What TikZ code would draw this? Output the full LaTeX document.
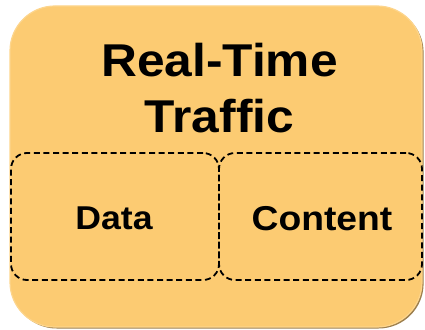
\documentclass[tikz,border=0pt]{standalone}
\usepackage{fontspec}
\setmainfont{Liberation Sans}
\newfontfamily\widesans[FakeStretch=1.08]{Liberation Sans}
\begin{document}
\begin{tikzpicture}[x=1pt,y=1pt,
  outerbox/.style={draw=outerline, line width=1.2pt, fill=boxfill, rounded corners=45pt,
    minimum width=412pt, minimum height=321pt, inner sep=0pt},
  shadowbox/.style={fill=shadowbrown, rounded corners=45pt,
    minimum width=412pt, minimum height=321pt, inner sep=0pt},
  partbox/.style={draw=black, line width=1.8pt, dash pattern=on 6pt off 3.6pt,
    rounded corners=16pt, minimum height=127pt, inner sep=0pt},
  bigtitle/.style={font=\widesans\bfseries\fontsize{46}{56}\selectfont, align=center},
  parttext/.style={font=\widesans\bfseries\fontsize{33}{38}\selectfont}
]
\definecolor{boxfill}{HTML}{FCCB72}
\definecolor{outerline}{HTML}{FDD58C}
\definecolor{shadowbrown}{HTML}{9C7F4E}
\useasboundingbox (0,0) rectangle (425,329);
% drop shadow and outer container
\node[shadowbox] (shadow) at (217.6,161) {};
\node[outerbox] (outer) at (216,162.5) {};
% two-line heading
\node[bigtitle, anchor=base] (line1) at (219.5,252) {Real-Time};
\node[bigtitle, anchor=base] (line2) at (219.5,196) {Traffic};
% dashed sub-regions
\node[partbox, minimum width=208pt] (databox) at (115,112.5) {};
\node[partbox, minimum width=203pt] (contentbox) at (320.5,112.5) {};
\node[parttext, anchor=base] (data) at (114,99) {Data};
\node[parttext, anchor=base, font=\widesans\bfseries\fontsize{34.5}{40}\selectfont] (content) at (322,98.5) {Content};
\end{tikzpicture}
\end{document}
